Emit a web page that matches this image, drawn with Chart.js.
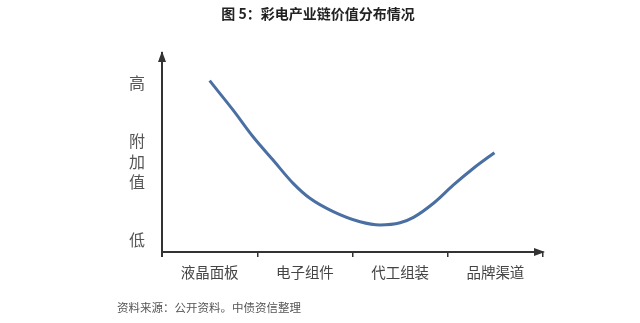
<!DOCTYPE html>
<html>
<head>
    <title>彩电产业链价值分布情况</title>
    <script src="https://cdn.jsdelivr.net/npm/chart.js"></script>
    <style>
        body {
            margin: 0;
            background: #fff;
        }
        .chart-container {
            position: relative;
            width: 640px;
            height: 323px;
        }
    </style>
</head>
<body>
    <div class="chart-container">
        <canvas id="myChart"></canvas>
    </div>

    <script>
        const categories = ['液晶面板', '电子组件', '代工组装', '品牌渠道'];
        // curve: x in category units, y in value units (0..10)
        const curveX = [0, 0.245, 0.456, 0.666, 0.877, 1.053, 1.298, 1.579, 1.789, 2.0, 2.14, 2.35, 2.56, 2.77, 2.99];
        const curveY = [8.61, 7.14, 5.79, 4.62, 3.45, 2.70, 2.03, 1.52, 1.36, 1.47, 1.74, 2.45, 3.37, 4.21, 4.99];
        const yTickValues = [0.6, 4.55, 8.5];
        const yTickLabels = ['低', ['附', '加', '值'], '高'];
        const titleText = '图 5：彩电产业链价值分布情况';
        const sourceText = '资料来源：公开资料。中债资信整理';

        const FONT = '"Noto Sans CJK SC", "Noto Sans", sans-serif';

        const points = curveX.map((x, i) => ({ x: x, y: curveY[i] }));

        const extrasPlugin = {
            id: 'extras',
            afterDraw(chart) {
                const ctx = chart.ctx;
                const area = chart.chartArea;
                ctx.save();
                // arrow heads
                ctx.fillStyle = '#333';
                ctx.beginPath();
                ctx.moveTo(area.left, area.top - 2);
                ctx.lineTo(area.left - 4, area.top + 9);
                ctx.lineTo(area.left + 4, area.top + 9);
                ctx.closePath();
                ctx.fill();
                ctx.beginPath();
                ctx.moveTo(area.right + 2, area.bottom);
                ctx.lineTo(area.right - 9, area.bottom - 4);
                ctx.lineTo(area.right - 9, area.bottom + 4);
                ctx.closePath();
                ctx.fill();
                // y axis runs a bit below the x axis
                ctx.strokeStyle = '#333';
                ctx.lineWidth = 2;
                ctx.beginPath();
                ctx.moveTo(area.left, area.bottom);
                ctx.lineTo(area.left, area.bottom + 5);
                ctx.stroke();
                // title
                ctx.fillStyle = '#222';
                ctx.font = 'bold 14px ' + FONT;
                ctx.textAlign = 'center';
                ctx.textBaseline = 'middle';
                ctx.fillText(titleText, 318, 14);
                // source
                ctx.fillStyle = '#555';
                ctx.font = '11.5px ' + FONT;
                ctx.textAlign = 'left';
                ctx.fillText(sourceText, 117, 308);
                ctx.restore();
            }
        };

        window.addEventListener('load', function() {
            const ctx = document.getElementById('myChart');
            new Chart(ctx, {
                type: 'line',
                data: {
                    labels: categories,
                    datasets: [{
                        data: points,
                        xAxisID: 'xv',
                        borderColor: '#4a6fa3',
                        borderWidth: 3,
                        pointRadius: 0,
                        cubicInterpolationMode: 'monotone',
                        fill: false
                    }]
                },
                options: {
                    responsive: true,
                    maintainAspectRatio: false,
                    animation: false,
                    layout: {
                        padding: { left: 0, right: 97, top: 53, bottom: 0 }
                    },
                    scales: {
                        x: {
                            type: 'category',
                            offset: true,
                            grid: {
                                offset: true,
                                drawOnChartArea: false,
                                drawTicks: true,
                                tickLength: 5,
                                color: '#333',
                                lineWidth: 1.5
                            },
                            border: { color: '#333', width: 2 },
                            ticks: {
                                color: '#444',
                                padding: 7,
                                font: { family: FONT, size: 14.5 }
                            },
                            afterFit(scale) { scale.height = 71; }
                        },
                        xv: {
                            type: 'linear',
                            display: false,
                            min: -0.5,
                            max: 3.5
                        },
                        y: {
                            min: 0,
                            max: 10,
                            grid: { display: false, drawTicks: false },
                            border: { color: '#333', width: 2 },
                            afterBuildTicks(scale) {
                                scale.ticks = yTickValues.map(v => ({ value: v }));
                            },
                            ticks: {
                                color: '#555',
                                padding: 17,
                                font: { family: FONT, size: 16, lineHeight: 1.3 },
                                callback: function(value) {
                                    const i = yTickValues.indexOf(value);
                                    return i >= 0 ? yTickLabels[i] : '';
                                }
                            },
                            afterFit(scale) { scale.width = 162; }
                        }
                    },
                    plugins: {
                        legend: { display: false },
                        tooltip: { enabled: false }
                    }
                },
                plugins: [extrasPlugin]
            });
        });
    </script>
</body>
</html>
